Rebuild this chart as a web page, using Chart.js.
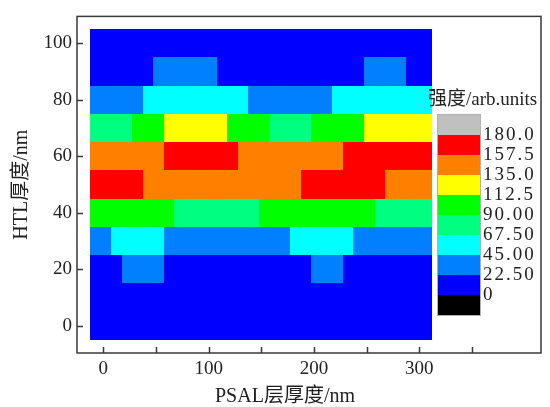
<!DOCTYPE html>
<html>
<head>
<meta charset="utf-8">
<script src="https://cdn.jsdelivr.net/npm/chart.js@4.4.0/dist/chart.umd.min.js"></script>
<style>
	html, body { margin: 0; padding: 0; background: #fff; }
	#wrap { width: 550px; height: 407px; position: relative; }
</style>
</head>
<body>
<div id="wrap"><canvas id="chart-heatmap"></canvas></div>
<script>
// HTL thickness (nm) at the centre of each row, top to bottom
const HTL_ROWS = [100, 90, 80, 70, 60, 50, 40, 30, 20, 10, 0];
const ROW_HEIGHT = 10;

// PSAL thickness (nm) where the colour changes along each row
const ROW_EDGES = [
	[-12.5, 312.5],
	[-12.5, 47.5, 107.5, 247.5, 287.5, 312.5],
	[-12.5, 37.5, 137.5, 217.5, 312.5],
	[-12.5, 27.5, 57.5, 117.5, 157.5, 197.5, 247.5, 312.5],
	[-12.5, 57.5, 127.5, 227.5, 312.5],
	[-12.5, 37.5, 187.5, 267.5, 312.5],
	[-12.5, 67.5, 147.5, 257.5, 312.5],
	[-12.5, 7.5, 57.5, 177.5, 237.5, 312.5],
	[-12.5, 17.5, 57.5, 197.5, 227.5, 312.5],
	[-12.5, 312.5],
	[-12.5, 312.5],
];

// intensity (arb. units) of each run
const ROW_VALUES = [
	[11],
	[11, 34, 11, 34, 11],
	[34, 56, 34, 56],
	[79, 101, 124, 101, 79, 101, 124],
	[146, 169, 146, 169],
	[169, 146, 169, 146],
	[101, 79, 101, 79],
	[34, 56, 34, 56, 34],
	[11, 34, 11, 34, 11],
	[11],
	[11],
];

// colour scale
const LEVELS = [0, 22.5, 45, 67.5, 90, 112.5, 135, 157.5, 180];
const LEVEL_LABELS = ["0", "22.50", "45.00", "67.50", "90.00", "112.5", "135.0", "157.5", "180.0"];
const LEVEL_COLORS = ["#000000", "#0000ff", "#0080ff", "#00ffff", "#00ff80", "#00ff00", "#ffff00", "#ff8000", "#ff0000", "#c0c0c0"];

const SERIF = '"Liberation Serif", "Times New Roman", "Noto Sans CJK SC", serif';
const TEXT = "#222";
const LINE = "#3a3a3a";

const colorFor = (v) => LEVEL_COLORS[LEVELS.filter((l) => l <= v).length];

// Heatmap cells, placed with the chart scales
const heatmap = {
	id: "heatmap",
	beforeDatasetsDraw(chart) {
		const { ctx, scales: { x, y } } = chart;
		ctx.save();
		HTL_ROWS.forEach((row, r) => {
			const top = Math.round(y.getPixelForValue(row + ROW_HEIGHT / 2));
			const bottom = Math.round(y.getPixelForValue(row - ROW_HEIGHT / 2));
			const edges = ROW_EDGES[r];
			ROW_VALUES[r].forEach((v, i) => {
				const left = Math.round(x.getPixelForValue(edges[i]));
				const right = Math.round(x.getPixelForValue(edges[i + 1]));
				ctx.fillStyle = colorFor(v);
				ctx.fillRect(left, top, right - left, bottom - top);
			});
		});
		ctx.restore();
	},
};

// Frame, inward ticks and colour bar
const decorations = {
	id: "decorations",
	afterDraw(chart) {
		const { ctx, chartArea: area, scales: { x, y } } = chart;
		const frameRight = chart.width - 9;
		ctx.save();

		ctx.strokeStyle = LINE;
		ctx.lineWidth = 1.5;
		ctx.strokeRect(area.left, area.top, frameRight - area.left, area.bottom - area.top);

		ctx.beginPath();
		x.ticks.forEach((t) => {
			const px = Math.round(x.getPixelForValue(t.value)) + 0.5;
			ctx.moveTo(px, area.bottom);
			ctx.lineTo(px, area.bottom - 6);
		});
		y.ticks.forEach((t) => {
			const py = Math.round(y.getPixelForValue(t.value)) + 0.5;
			ctx.moveTo(area.left, py);
			ctx.lineTo(area.left + 6, py);
		});
		ctx.stroke();

		// colour bar
		const barLeft = 438;
		const barTop = 115;
		const barW = 42;
		const barH = 20;
		ctx.fillStyle = TEXT;
		ctx.font = "19px " + SERIF;
		ctx.textBaseline = "middle";
		ctx.textAlign = "left";
		ctx.fillText("强度/arb.units", 428, 100);

		const swatches = LEVEL_COLORS.slice().reverse();
		swatches.forEach((c, i) => {
			ctx.fillStyle = c;
			ctx.fillRect(barLeft, barTop + i * barH, barW, barH);
		});
		ctx.strokeStyle = "#b0b0b0";
		ctx.lineWidth = 1;
		ctx.strokeRect(barLeft - 0.5, barTop - 0.5, barW + 1, swatches.length * barH + 1);

		ctx.fillStyle = TEXT;
		ctx.font = "19px " + SERIF;
		ctx.letterSpacing = "2px";
		LEVEL_LABELS.slice().reverse().forEach((lbl, i) => {
			ctx.fillText(lbl, barLeft + barW + 3, barTop + (i + 1) * barH);
		});
		ctx.restore();
	},
};

const CONFIG = {
	type: "scatter",
	data: { datasets: [] },
	options: {
		responsive: true,
		maintainAspectRatio: false,
		animation: false,
		layout: {
			padding: { top: 9, right: 57, left: 0, bottom: 0 },
		},
		plugins: {
			legend: { display: false },
			tooltip: { enabled: false },
		},
		scales: {
			x: {
				type: "linear",
				min: -25,
				max: 370,
				border: { display: false },
				grid: { display: false, drawTicks: false },
				ticks: {
					stepSize: 50,
					includeBounds: false,
					autoSkip: false,
					maxRotation: 0,
					padding: 5,
					color: TEXT,
					font: { family: SERIF, size: 19 },
					callback: (v) => (v % 100 === 0 ? v : ""),
				},
				title: {
					display: true,
					text: "PSAL层厚度/nm",
					color: TEXT,
					font: { family: SERIF, size: 20, lineHeight: 1 },
					padding: { top: 0, bottom: 0 },
				},
				afterFit: (s) => { s.height = 54; },
			},
			y: {
				type: "linear",
				min: -9.7,
				max: 109.5,
				border: { display: false },
				grid: { display: false, drawTicks: false },
				ticks: {
					stepSize: 20,
					includeBounds: false,
					padding: 5,
					color: TEXT,
					font: { family: SERIF, size: 19 },
				},
				title: {
					display: true,
					text: "HTL厚度/nm",
					color: TEXT,
					font: { family: SERIF, size: 20, lineHeight: 1 },
					padding: { top: 12, bottom: 0 },
				},
				afterFit: (s) => { s.width = 77; },
			},
		},
	},
	plugins: [heatmap, decorations],
};

const WRAPPER = document.getElementById("chart-heatmap");
if (WRAPPER) {
	new Chart(WRAPPER, CONFIG);
}
</script>
</body>
</html>
